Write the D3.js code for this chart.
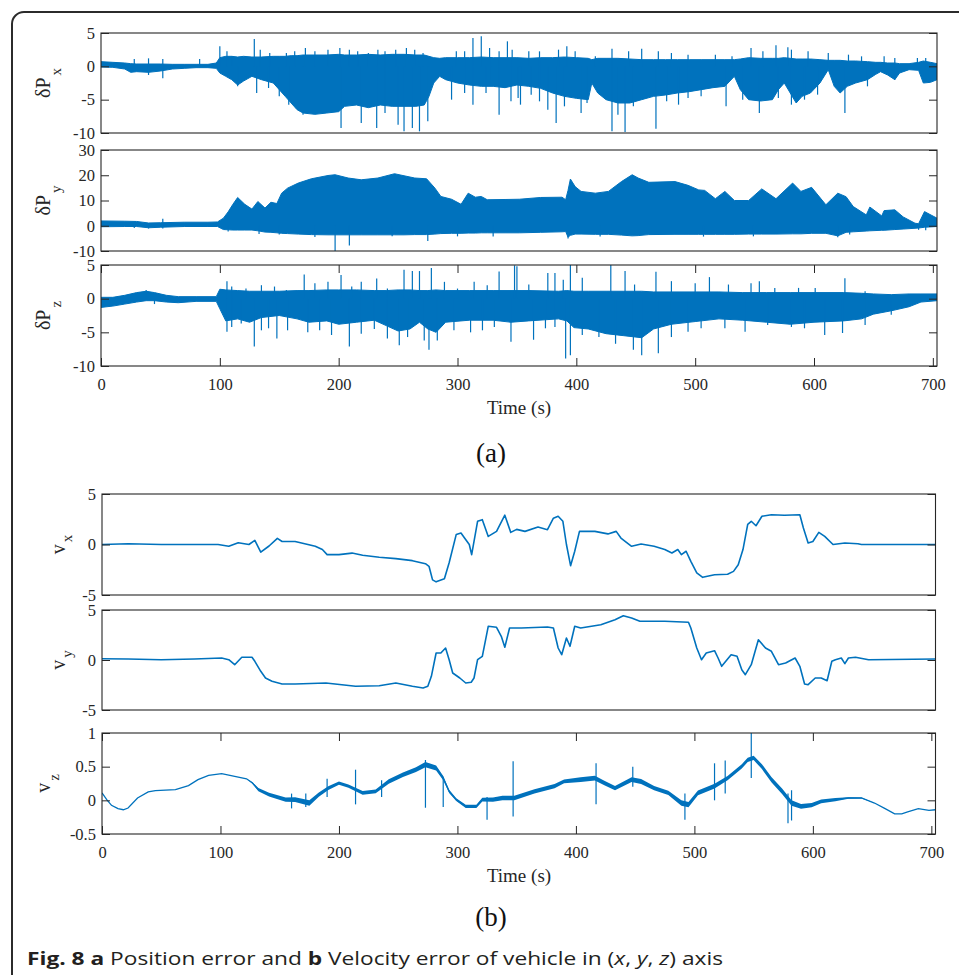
<!DOCTYPE html>
<html lang="en">
<head>
<meta charset="UTF-8">
<title>Fig. 8 position and velocity error</title>
<style>
  body { margin: 0; background: #fff; }
  svg { display: block; }
</style>
</head>
<body>
<script src="https://cdn.jsdelivr.net/npm/d3@7/dist/d3.min.js"></script>
<script>
// ---- values ----
const timeTicks = [0, 100, 200, 300, 400, 500, 600, 700];
const tMax = 703.5;

const pxTicks = [-10, -5, 0, 5];
const pyTicks = [-10, 0, 10, 20, 30];
const pzTicks = [-10, -5, 0, 5];
const vxTicks = [-5, 0, 5];
const vyTicks = [-5, 0, 5];
const vzTicks = [-0.5, 0, 0.5, 1];

// (a) dPx : upper / lower edge of the dense noise band
const pxT  = [0,10,20,25,30, 40,50,60,70,80, 90,97,100,105,110, 115,120,127,135,145, 150,155,160,165,170, 180,190,200,205,215, 225,235,245,255,265, 272,276,280,285,290, 300,310,320,330,340, 350,360,370,380,390, 400,410,413,418,425, 435,445,455,465,475, 485,495,505,515,525, 533,538,545,555,565, 570,575,580,585,590, 597,605,612,617,622, 628,635,645,652,656, 662,668,672,680,688, 692,698,703.5];
const pxHi = [0.7,0.6,0.5,0.4,0.35, 0.35,0.35,0.3,0.3,0.3, 0.3,0.5,1.3,1.5,1.5, 1.4,1.5,1.4,1.4,1.5, 1.5,1.5,1.6,1.6,1.7, 1.7,1.7,1.8,1.7,1.7, 1.8,1.7,1.8,1.8,1.7, 1.7,1.5,1.3,1.2,1.3, 1.3,1.3,1.4,1.3,1.3, 1.3,1.2,1.3,1.3,1.4, 1.3,1.2,1.0,1.2,1.2, 1.2,1.1,1.0,1.0,1.0, 1.0,1.0,1.0,1.0,1.0, 1.0,1.1,1.3,1.2,1.2, 1.2,1.3,1.2,1.1,1.1, 1.1,1.0,0.9,0.9,0.9, 0.8,0.8,0.7,0.6,0.6, 0.5,0.5,0.4,0.4,0.6, 0.8,0.6,0.4];
const pxLo = [-0.1,-0.15,-0.4,-0.9,-0.8, -0.9,-0.7,-0.4,-0.3,-0.2, -0.2,-0.3,-1.0,-1.5,-2.0, -2.8,-2.2,-1.5,-2.0,-2.5, -3.5,-4.5,-5.5,-6.5,-7.0, -7.2,-7.0,-6.8,-6.0,-5.8, -6.2,-5.8,-6.0,-6.0,-6.0, -5.8,-4.5,-2.5,-1.5,-2.0, -2.5,-2.8,-3.0,-3.0,-3.2, -2.8,-3.0,-3.3,-4.0,-4.5, -4.8,-5.0,-2.5,-4.0,-5.0, -5.5,-5.5,-5.0,-4.5,-4.3, -4.0,-3.8,-3.5,-3.2,-3.0, -1.5,-3.5,-5.0,-5.2,-5.0, -3.5,-2.5,-4.0,-5.5,-4.5, -4.0,-2.5,-0.5,-3.0,-4.0, -3.0,-2.5,-2.0,-1.2,-0.8, -1.3,-2.0,-1.0,-0.5,-0.6, -2.5,-2.4,-2.0];
const pxSpikes = [[28,1.1],[40,1.2],[52,1.1],[83,1.1],[40,-1.3],[52,-1.8],
  [100,3.0],[106,2.25],[110,1.5],[129,4.1],[134,2.5],[142,2.0],[156,2.0],[163,2.25],[172,2.75],[180,2.25],[191,2.5],[201,2.75],[209,2.5],[216,2.25],[225,2.0],[233,2.5],[239,2.25],[248,2.5],[257,2.75],[264,2.5],[271,2.0],[299,2.25],[306,2.25],[313,4.25],[320,4.5],[327,2.75],[335,2.25],[342,3.75],[346,2.5],
  [115,-3.0],[131,-4.0],[141,-3.25],[150,-4.5],[158,-5.75],[170,-7.25],[202,-9.25],[219,-8.5],[232,-9.25],[239,-7.0],[250,-8.75],[255,-9.75],[262,-9.25],[268,-9.75],[275,-8.25],[295,-5.0],[306,-4.0],[313,-5.75],[324,-4.0],[328,-2.5],[335,-7.25],[345,-5.25],[351,-4.75],
  [360,2.25],[369,2.25],[385,2.5],[392,3.0],[399,2.25],[416,1.5],[430,2.65],[444,2.25],[455,2.65],[469,2.25],[480,2.0],[494,1.75],[517,1.75],[531,1.5],[547,2.75],[557,2.25],[568,3.15],[578,2.85],[581,2.5],[595,2.25],[612,2.0],[629,1.75],[640,1.5],[659,1.5],[668,1.25],[687,1.25],[694,1.25],
  [353,-5.75],[362,-4.25],[369,-5.25],[376,-6.5],[383,-8.5],[390,-6.0],[404,-7.0],[409,-5.5],[430,-9.75],[435,-7.25],[441,-9.85],[448,-6.0],[467,-9.35],[476,-5.25],[486,-5.75],[494,-4.75],[505,-4.5],[526,-6.0],[540,-5.0],[554,-7.0],[570,-4.75],[581,-5.75],[592,-5.0],[603,-4.25],[626,-7.0],[645,-3.0],[668,-2.0]];

// (a) dPy
const pyT  = [0,20,30,40,50, 70,90,98,103,107, 111,115,121,127,132, 138,143,148,152,157, 166,177,191,197,208, 219,233,247,255,264, 274,281,286,295,303, 309,315,320,325,340, 352,370,388,391,393, 395,399,404,416,427, 438,447,452,461,483, 494,503,508,517,525, 533,545,556,568,582, 589,598,610,620,627, 633,644,647,657,659, 668,675,685,688,693, 703.5];
const pyHi = [1.9,1.8,1.7,1.1,1.2, 1.4,1.4,1.5,3.0,5.5, 8.5,11.2,8.5,6.6,9.6, 7.0,9.3,8.8,12.9,14.9, 16.9,18.6,19.9,20.2,18.9, 18.2,18.9,20.6,19.8,18.9, 18.6,14.9,11.6,10.5,8.5, 12.9,11.3,11.6,10.3,10.4, 10.5,11.2,11.3,10.3,14.0, 18.5,15.5,13.6,12.9,13.6, 17.5,20.2,18.9,17.2,17.5, 16.0,14.2,14.0,10.7,13.6, 10.0,10.0,14.6,10.7,16.9, 13.6,15.2,8.3,12.9,11.5, 7.6,4.3,7.4,3.9,6.0, 6.3,3.5,1.0,0.8,5.6, 3.0];
const pyLo = [-0.4,-0.3,-0.3,-0.8,-0.6, -0.3,-0.3,-0.3,-1.5,-1.6, -1.7,-1.7,-1.7,-1.7,-2.0, -2.5,-2.6,-2.8,-3.0,-3.1, -3.3,-3.5,-3.6,-3.6,-3.6, -3.6,-3.6,-3.6,-3.6,-3.5, -3.5,-3.3,-3.1,-3.0,-3.0, -2.9,-2.9,-2.8,-2.8,-2.8, -2.8,-2.6,-2.4,-2.3,-4.5, -3.8,-3.3,-3.3,-3.4,-3.4, -3.7,-4.0,-3.9,-3.5,-3.4, -3.4,-3.4,-3.4,-3.4,-3.4, -3.4,-3.3,-3.3,-3.3,-3.2, -3.2,-3.0,-3.0,-4.0,-2.6, -2.4,-2.1,-2.0,-1.8,-1.8, -1.5,-1.3,-1.0,-0.9,-0.6, -0.3];
const pySpikes = [[28,-0.9],[40,-1.1],[52,2.8],[52,-1.1],[107,-2.3],[133,-3.3],[150,-3.5],[180,-4.5],[197,-10.0],[209,-7.8],[245,-4.2],[275,-6.0],[300,-4.2],[330,-4.3],[393,-5.0],[420,-4.3],[507,-4.3],[549,-4.2],[620,-4.6],[630,-3.5],[688,-1.6],[694,-1.8]];

// (a) dPz
const pzT  = [0,10,20,30,38, 45,55,65,80,97, 100,105,115,125,135, 150,165,175,190,200, 215,230,240,250,260, 268,275,282,290,310, 330,345,360,385,392, 398,410,425,440,455, 465,480,500,520,540, 560,580,600,625,640, 650,665,680,690,703.5];
const pzHi = [0.2,0.2,0.5,0.9,1.1, 0.9,0.5,0.3,0.3,0.3, 1.4,1.3,1.2,1.1,1.1, 1.1,1.2,1.2,1.3,1.3, 1.3,1.2,1.2,1.3,1.3, 1.2,1.2,1.3,1.2,1.2, 1.2,1.2,1.2,1.1,1.2, 1.1,1.1,1.1,1.1,1.1, 1.0,1.0,1.0,1.0,0.9, 0.9,0.9,0.9,0.9,0.8, 0.7,0.6,0.7,0.7,0.7];
const pzLo = [-1.3,-1.1,-0.8,-0.5,-0.3, -0.3,-0.5,-0.6,-0.4,-0.4, -1.5,-3.3,-3.0,-3.5,-2.8, -2.5,-3.0,-3.5,-3.3,-3.8, -3.5,-3.2,-4.0,-4.8,-4.5, -3.5,-4.5,-5.0,-3.5,-3.2, -3.2,-3.5,-3.3,-3.0,-3.3, -4.3,-4.5,-5.2,-5.5,-5.8, -4.5,-3.8,-3.4,-3.0,-3.2, -3.5,-3.8,-3.5,-3.3,-3.0, -2.3,-1.8,-1.2,-0.5,-0.3];
const pzSpikes = [[38,1.3],[45,-0.8],
  [106,2.6],[110,1.8],[122,1.5],[135,2.0],[146,1.8],[156,1.3],[171,3.6],[180,2.3],[191,2.5],[202,3.5],[211,1.8],[219,2.5],[232,3.0],[241,1.5],[255,4.3],[262,4.1],[268,4.1],[278,4.55],[289,2.5],[300,1.5],[314,2.5],[325,2.0],[335,4.05],[348,4.95],
  [106,-4.9],[110,-4.2],[118,-3.7],[129,-7.1],[135,-4.7],[141,-4.4],[148,-5.9],[157,-4.7],[174,-5.0],[184,-4.7],[194,-5.4],[209,-7.1],[219,-5.2],[230,-4.5],[241,-5.9],[251,-6.9],[258,-5.7],[272,-6.2],[276,-7.6],[283,-6.2],[297,-4.7],[311,-5.0],[321,-4.7],[331,-4.2],[345,-6.4],
  [350,4.8],[360,2.1],[376,3.8],[382,3.8],[389,2.8],[395,5.0],[405,3.1],[429,5.0],[441,4.1],[449,2.1],[467,4.0],[480,2.6],[500,2.3],[512,3.2],[528,2.1],[547,2.3],[554,2.6],[567,1.6],[587,1.6],[601,1.6],[626,3.05],[643,1.1],
  [364,-6.1],[374,-4.4],[382,-4.2],[391,-8.9],[395,-8.4],[405,-5.4],[419,-5.7],[433,-6.7],[448,-7.6],[455,-8.4],[469,-8.1],[480,-5.7],[494,-4.9],[505,-4.4],[525,-4.4],[542,-4.9],[561,-3.9],[581,-4.2],[592,-4.4],[609,-5.4],[624,-5.1],[643,-3.9],[665,-2.4]];

// (b) vx, vy : [time, value]
const vx = [[0,0],[22,0.08],[50,0],[78,0],[98,0],[107,-0.18],[115,0.18],[124,0],[129,0.4],[134,-0.76],[141,-0.15],[148,0.6],[152,0.3],[163,0.3],[172,0.05],[180,-0.18],[186,-0.5],[190,-1.0],[200,-1.0],[211,-0.85],[220,-1.07],[234,-1.27],[248,-1.4],[262,-1.6],[273,-1.9],[276,-2.16],[279,-3.5],[282,-3.7],[289,-3.4],[293,-1.8],[299,1.0],[303,1.14],[306,0.64],[310,0],[312,-1.0],[317,2.3],[321,2.46],[326,0.8],[333,1.3],[340,2.9],[345,1.2],[350,1.5],[357,1.3],[368,1.73],[376,1.47],[381,2.6],[385,2.8],[389,2.3],[392,0],[395.5,-2.1],[399,-0.67],[403,1.3],[416,1.3],[427,1.05],[434,1.3],[438,0.64],[447,-0.18],[455,0.05],[466,-0.18],[475,-0.5],[481,-0.84],[486,-0.5],[489,-1.0],[493,-0.67],[497,-1.67],[502,-2.8],[507,-3.25],[517,-3.0],[528,-2.95],[533,-2.66],[537,-2.0],[541,-0.5],[545,2.0],[548,2.3],[552,1.86],[557,2.8],[565,2.95],[576,2.9],[589,2.95],[592,1.63],[596,0.15],[600,0.3],[605,1.2],[610,0.8],[617,0],[627,0.15],[638,0.08],[641,0],[703.5,0]];
const vy = [[0,0.13],[22,0.1],[50,0.03],[78,0.1],[101,0.2],[107,0.03],[112,-0.47],[118,0.27],[126.6,0.27],[129,-0.13],[134,-1.13],[138,-1.8],[143.5,-2.13],[152,-2.4],[163,-2.4],[189,-2.3],[214,-2.63],[234,-2.57],[248,-2.3],[262,-2.63],[271,-2.8],[275,-2.63],[278,-1.63],[282,0.7],[286,0.7],[290,1.2],[293,0.03],[296,-1.3],[302,-1.8],[307,-2.3],[311.6,-2.23],[314,-1.8],[317,0.03],[321,0.37],[326,3.37],[333,3.27],[337,2.37],[340,1.27],[344,3.2],[354,3.2],[376,3.3],[381,3.2],[385,1.2],[388,0.53],[392,2.2],[395,1.37],[399,3.37],[404,3.2],[421,3.53],[433,4.03],[440,4.43],[447,4.2],[454,3.87],[475,3.87],[495,3.77],[497,3.2],[502,1.2],[506,0.03],[510,0.7],[517,0.93],[520,0.2],[523,-0.63],[531,0.53],[536,0.37],[540,-0.97],[543,-1.47],[548,-0.47],[554,2.03],[560,1.2],[565,0.87],[571,-0.47],[577,-0.3],[585,0.2],[589,-0.63],[593,-2.4],[596,-2.47],[602,-1.8],[607,-1.8],[612,-2.07],[616,-0.13],[619,0.03],[624,0.2],[627,-0.37],[630,0.2],[636,0.27],[647,0.03],[703.5,0.1]];

// (b) vz : centre line and half width of its noise
const vzT = [0,4,8,13.5,18, 22,30,39,45,62, 73,81,90,101,112, 122,127,132,141,155, 163,175,183,191,200, 208,220,231,242,254, 265,273,282,288,293, 299,307,316,321,330, 338,348,365,382,390, 404,416,424,433,447, 455,466,478,489,495, 503,517,528,540,545, 550,557,565,574,582, 590,599,607,619,630, 641,652,661,669,675, 680,689,698,703.5];
const vzV = [0.11,0.01,-0.074,-0.124,-0.14, -0.114,0.035,0.124,0.144,0.158, 0.218,0.307,0.37,0.396,0.356, 0.32,0.257,0.158,0.084,0.01, 0.01,-0.04,0.084,0.18,0.257, 0.21,0.11,0.134,0.28,0.38, 0.455,0.53,0.48,0.33,0.134, 0.01,-0.09,-0.09,0.01,0.01, 0.035,0.035,0.134,0.21,0.28, 0.307,0.33,0.257,0.18,0.307, 0.28,0.18,0.11,-0.04,-0.064, 0.11,0.21,0.33,0.505,0.6, 0.63,0.5,0.307,0.134,-0.04, -0.09,-0.07,-0.015,0.01,0.035, 0.035,-0.04,-0.124,-0.2,-0.2, -0.17,-0.124,-0.15,-0.14];
const vzN = [0,0,0,0,0, 0,0,0,0,0, 0,0,0,0,0, 0,0.015,0.03,0.035,0.04, 0.045,0.05,0.04,0.035,0.03, 0.03,0.035,0.035,0.04,0.04, 0.045,0.05,0.045,0.04,0.03, 0.025,0.03,0.03,0.035,0.04, 0.04,0.04,0.04,0.04,0.035, 0.045,0.045,0.04,0.04,0.045, 0.045,0.04,0.04,0.05,0.05, 0.045,0.045,0.04,0.04,0.04, 0.04,0.045,0.05,0.05,0.05, 0.045,0.04,0.035,0.03,0.015, 0.01,0,0,0,0, 0,0,0,0];
const vzSpikes = [[160,-0.12,0.1],[172,-0.1,0.1],[190,0.05,0.32],[214,-0.06,0.455],[236,0.05,0.3],[273,-0.11,0.6],[288,-0.1,0.35],[325,-0.29,0.05],[347,-0.24,0.58],[417,-0.06,0.55],[448,0.2,0.5],[492,-0.29,0.1],[517,0.0,0.55],[526,0.1,0.59],[548,0.33,1.0],[579,-0.34,0.1],[582,-0.3,0.15]];

// ---- drawing ----
const W = 959, H = 975;
const blue = "#0072BD";
const ink = "#262626";
const serif = "'Liberation Serif', 'Times New Roman', serif";

const svg = d3.select("body").append("svg")
    .attr("width", W)
    .attr("height", H);

// rounded frame round the whole figure
svg.append("path")
    .attr("d", "M12,995 V24 A12,12 0 0 1 24,12 H980")
    .attr("fill", "none")
    .attr("stroke", "#2b2b2b")
    .attr("stroke-width", 2);

let clipCount = 0;

function subplot(left, right, top, bottom, yDomain) {
    const x = d3.scaleLinear().domain([0, tMax]).range([left, right]);
    const y = d3.scaleLinear().domain(yDomain).range([bottom, top]);
    const id = "clip" + (clipCount++);
    svg.append("clipPath").attr("id", id)
        .append("rect")
        .attr("x", left).attr("y", top)
        .attr("width", right - left).attr("height", bottom - top);
    const g = svg.append("g").attr("clip-path", `url(#${id})`);
    return { x, y, g, left, right, top, bottom };
}

function axes(p, yTicks, withTime) {
    svg.append("rect")
        .attr("x", p.left).attr("y", p.top)
        .attr("width", p.right - p.left).attr("height", p.bottom - p.top)
        .attr("fill", "none").attr("stroke", ink).attr("stroke-width", 1.1);

    svg.append("g")
        .attr("transform", `translate(${p.left},0)`)
        .call(d3.axisLeft(p.y).tickValues(yTicks).tickSize(-8).tickPadding(6).tickFormat(d => String(d)))
        .call(g => g.select(".domain").remove())
        .attr("font-size", 16.5).attr("font-family", serif).style("color", ink);

    svg.append("g")
        .attr("transform", `translate(${p.right},0)`)
        .call(d3.axisRight(p.y).tickValues(yTicks).tickSize(-8).tickFormat(""))
        .call(g => g.select(".domain").remove())
        .style("color", ink);

    if (withTime) {
        svg.append("g")
            .attr("transform", `translate(0,${p.bottom})`)
            .call(d3.axisBottom(p.x).tickValues(timeTicks).tickSize(-8).tickPadding(12).tickFormat(d => String(d)))
            .call(g => g.select(".domain").remove())
            .attr("font-size", 16.5).attr("font-family", serif).style("color", ink);
        svg.append("g")
            .attr("transform", `translate(0,${p.top})`)
            .call(d3.axisTop(p.x).tickValues(timeTicks).tickSize(-8).tickFormat(""))
            .call(g => g.select(".domain").remove())
            .style("color", ink);
    }
}

function yLabel(p, xPos, main, sub, subShift) {
    const t = svg.append("text")
        .attr("transform", `translate(${xPos},${(p.top + p.bottom) / 2}) rotate(-90)`)
        .attr("text-anchor", "middle")
        .attr("font-family", serif)
        .attr("font-size", 20)
        .attr("fill", ink);
    t.append("tspan").text(main);
    t.append("tspan").attr("dy", subShift).attr("dx", 2).attr("font-size", 15).text(sub);
}

// noise band plot: area between the two edges, plus the spikes
function bandPlot(p, T, hi, lo, spikes) {
    const rows = T.map((t, i) => ({ t: t, hi: hi[i], lo: lo[i] }));
    p.g.append("path").datum(rows)
        .attr("fill", blue)
        .attr("stroke", blue)
        .attr("stroke-width", 1)
        .attr("d", d3.area().x(d => p.x(d.t)).y0(d => p.y(d.lo)).y1(d => p.y(d.hi)));
    p.g.selectAll(null).data(spikes).join("line")
        .attr("x1", d => p.x(d[0])).attr("x2", d => p.x(d[0]))
        .attr("y1", p.y(0)).attr("y2", d => p.y(d[1]))
        .attr("stroke", blue).attr("stroke-width", 1.2);
}

function linePlot(p, pts) {
    p.g.append("path").datum(pts)
        .attr("fill", "none")
        .attr("stroke", blue)
        .attr("stroke-width", 1.6)
        .attr("stroke-linejoin", "round")
        .attr("d", d3.line().x(d => p.x(d[0])).y(d => p.y(d[1])));
}

// ---- (a) position error ----
const aL = 101, aR = 937;
const pPx = subplot(aL, aR, 33, 133, [-10, 5]);
const pPy = subplot(aL, aR, 150, 251, [-10, 30]);
const pPz = subplot(aL, aR, 265, 366, [-10, 5]);

bandPlot(pPx, pxT, pxHi, pxLo, pxSpikes);
bandPlot(pPy, pyT, pyHi, pyLo, pySpikes);
bandPlot(pPz, pzT, pzHi, pzLo, pzSpikes);

axes(pPx, pxTicks, false);
axes(pPy, pyTicks, false);
axes(pPz, pzTicks, true);

yLabel(pPx, 50, "\u03B4P", "x", 11);
yLabel(pPy, 50, "\u03B4P", "y", 11);
yLabel(pPz, 50, "\u03B4P", "z", 11);

svg.append("text")
    .attr("x", 519).attr("y", 414)
    .attr("text-anchor", "middle")
    .attr("font-family", serif).attr("font-size", 19).attr("fill", ink)
    .text("Time (s)");
svg.append("text")
    .attr("x", 491).attr("y", 462)
    .attr("text-anchor", "middle")
    .attr("font-family", serif).attr("font-size", 27).attr("fill", "#111")
    .text("(a)");

// ---- (b) velocity error ----
const bL = 102, bR = 935.5;
const pVx = subplot(bL, bR, 494, 595, [-5, 5]);
const pVy = subplot(bL, bR, 610, 710, [-5, 5]);
const pVz = subplot(bL, bR, 733, 834, [-0.5, 1]);

linePlot(pVx, vx);
linePlot(pVy, vy);

const vzRows = vzT.map((t, i) => ({ t: t, v: vzV[i], n: vzN[i] }));
pVz.g.append("path").datum(vzRows)
    .attr("fill", blue)
    .attr("d", d3.area().x(d => pVz.x(d.t)).y0(d => pVz.y(d.v - d.n * 0.8)).y1(d => pVz.y(d.v + d.n * 0.8)));
pVz.g.append("path").datum(vzRows)
    .attr("fill", "none")
    .attr("stroke", blue)
    .attr("stroke-width", 1.3)
    .attr("d", d3.line().x(d => pVz.x(d.t)).y(d => pVz.y(d.v)));
pVz.g.selectAll(null).data(vzSpikes).join("line")
    .attr("x1", d => pVz.x(d[0])).attr("x2", d => pVz.x(d[0]))
    .attr("y1", d => pVz.y(d[1])).attr("y2", d => pVz.y(d[2]))
    .attr("stroke", blue).attr("stroke-width", 1.2);

axes(pVx, vxTicks, false);
axes(pVy, vyTicks, false);
axes(pVz, vzTicks, true);

yLabel(pVx, 65, "v", "x", 7);
yLabel(pVy, 65, "v", "y", 7);
yLabel(pVz, 50, "v", "z", 9);

svg.append("text")
    .attr("x", 519).attr("y", 882)
    .attr("text-anchor", "middle")
    .attr("font-family", serif).attr("font-size", 19).attr("fill", ink)
    .text("Time (s)");
svg.append("text")
    .attr("x", 491).attr("y", 926)
    .attr("text-anchor", "middle")
    .attr("font-family", serif).attr("font-size", 27).attr("fill", "#111")
    .text("(b)");

// ---- caption ----
const cap = svg.append("text")
    .attr("x", 27).attr("y", 965)
    .attr("font-family", "'Open Sans', 'Noto Sans', sans-serif")
    .attr("font-size", 18)
    .attr("fill", "#231f20")
    .attr("textLength", 696)
    .attr("lengthAdjust", "spacingAndGlyphs");
cap.append("tspan").attr("font-weight", "bold").text("Fig. 8 a");
cap.append("tspan").text(" Position error and ");
cap.append("tspan").attr("font-weight", "bold").text("b");
cap.append("tspan").text(" Velocity error of vehicle in (");
cap.append("tspan").attr("font-style", "italic").text("x");
cap.append("tspan").text(", ");
cap.append("tspan").attr("font-style", "italic").text("y");
cap.append("tspan").text(", ");
cap.append("tspan").attr("font-style", "italic").text("z");
cap.append("tspan").text(") axis");
</script>
</body>
</html>
